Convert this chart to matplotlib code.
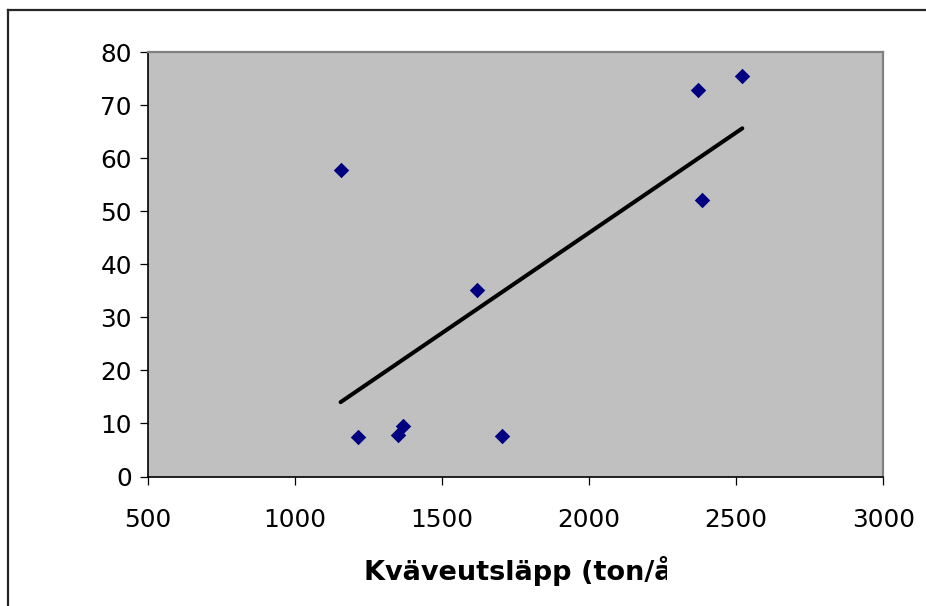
import numpy as np
import matplotlib
matplotlib.use("Agg")
import matplotlib.pyplot as plt
from matplotlib.patches import Rectangle
from matplotlib.lines import Line2D

# Data
kvave = [1156, 1214, 1350, 1368, 1703, 1619, 2369, 2521, 2383]
values = [57.8, 7.5, 7.8, 9.6, 7.6, 35.1, 72.9, 75.5, 52.1]
x_ticks = [500, 1000, 1500, 2000, 2500, 3000]
y_ticks = [0, 10, 20, 30, 40, 50, 60, 70, 80]
xlabel = "Kväveutsläpp (ton/år)"

W, H = 926, 606
fig = plt.figure(figsize=(W / 100, H / 100), dpi=100)
fig.patch.set_facecolor("white")

# chart-area border (only left & top visible in the reference)
bx, by = 7.5 / W, 1 - 9.5 / H
fig.add_artist(Line2D([bx, bx], [0, by], transform=fig.transFigure,
                      color="#262626", linewidth=1.6))
fig.add_artist(Line2D([bx, 1], [by, by], transform=fig.transFigure,
                      color="#262626", linewidth=1.6))

left, right, top, bottom = 147.5, 883.3, 52.3, 476.5
ax = fig.add_axes([left / W, (H - bottom) / H, (right - left) / W, (bottom - top) / H])
ax.set_facecolor("#C0C0C0")

ax.scatter(kvave, values, marker="D", s=62, color="#000080", zorder=3, linewidths=0)

coef = np.polyfit(kvave, values, 1)
xs = np.array([min(kvave), max(kvave)])
ax.plot(xs, np.polyval(coef, xs), color="black", linewidth=2.9,
        solid_capstyle="round", zorder=2)

ax.set_xlim(x_ticks[0], x_ticks[-1])
ax.set_ylim(y_ticks[0], y_ticks[-1])
ax.set_xticks(x_ticks)
ax.set_yticks(y_ticks)

for s in ["top", "right"]:
    ax.spines[s].set_color("#808080")
    ax.spines[s].set_linewidth(1.6)
for s in ["left", "bottom"]:
    ax.spines[s].set_color("black")
    ax.spines[s].set_linewidth(1.2)

ax.tick_params(axis="both", direction="out", length=5.8, width=0.9, color="black",
               labelsize=17.8, labelcolor="black")
ax.tick_params(axis="y", pad=5.5)
ax.tick_params(axis="x", pad=17)
for lab in ax.get_xticklabels() + ax.get_yticklabels():
    lab.set_family("DejaVu Sans")

fig.text(364 / W, (H - 571) / H, xlabel, ha="left", va="center",
         fontsize=19.5, fontweight="bold", family="DejaVu Sans", color="black")
# the reference's title box cuts the label off at x≈668 px
fig.add_artist(Rectangle((667 / W, (H - 600) / H), 160 / W, 55 / H,
                         transform=fig.transFigure, facecolor="white",
                         edgecolor="none", zorder=10))

fig.savefig("out.png", dpi=100)
